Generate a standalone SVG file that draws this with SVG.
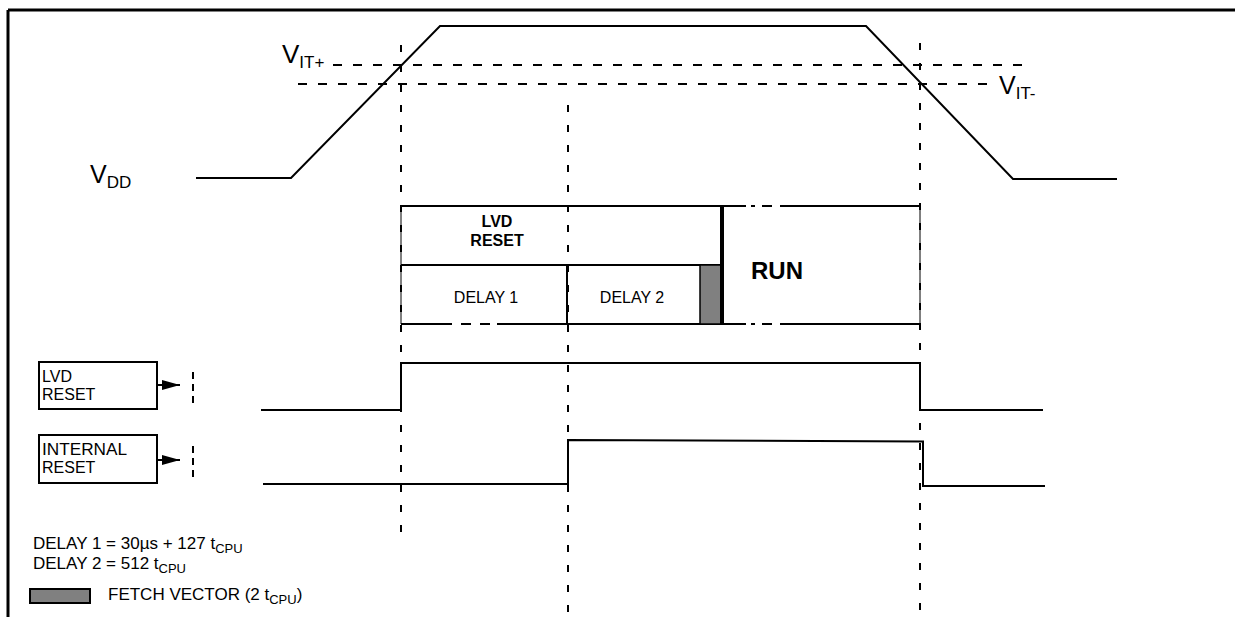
<svg xmlns="http://www.w3.org/2000/svg" width="1235" height="617" viewBox="0 0 1235 617">
<defs>
<style>
.ln{fill:none;stroke:#000;stroke-width:2}
.thk{fill:none;stroke:#000;stroke-width:4}
.dh{fill:none;stroke:#000;stroke-width:2;stroke-dasharray:9 11}
.dv{fill:none;stroke:#000;stroke-width:2;stroke-dasharray:7 13}
.t{font-family:"Liberation Sans",Arial,sans-serif;fill:#000}
.b{font-weight:bold}
.gray{fill:#808080;stroke:#000;stroke-width:2}
</style>
<marker id="ah" viewBox="0 0 18 10" refX="18" refY="5" markerWidth="18" markerHeight="10" markerUnits="userSpaceOnUse" orient="auto"><path d="M0,0 L18,5 L0,10 Z" fill="#000"/></marker>
</defs>
<rect x="0" y="0" width="1235" height="617" fill="#fff"/>
<g id="frame"><path class="ln" d="M8,10 H1235 M8,10 V617" style="stroke-width:3"/></g>

<g id="vdd">
<path class="ln" d="M196,178 H291 L440,26 H866 L1013,179 H1117"/>
<text class="t" x="90" y="183" font-size="25">V<tspan font-size="17" dy="5">DD</tspan></text>
</g>
<g id="thresholds">
<path class="dh" d="M333,65 H1027"/>
<path class="dh" d="M298,84 H990"/>
<text class="t" x="282" y="63" font-size="26">V<tspan font-size="17" dy="5">IT+</tspan></text>
<text class="t" x="999" y="94" font-size="25">V<tspan font-size="17" dy="5">IT-</tspan></text>
</g>

<g id="connectors">
<path class="dv" d="M401,45 V532"/>
<path class="dv" d="M568,105 V614"/>
<path class="dv" d="M920,43 V617"/>
<path class="ln" d="M157,385 H180" marker-end="url(#ah)"/>
<path class="ln" d="M157,460 H180" marker-end="url(#ah)"/>
<path class="dv" d="M193,372 V404" style="stroke-dasharray:7 5"/>
<path class="dv" d="M193,446 V478" style="stroke-dasharray:7 5"/>
</g>

<g id="timing-box">
<path class="ln" d="M401,206 H746 M751,206 H755 M762,206 H772 M780,206 H920"/>
<path class="ln" d="M401,324 H452 M461,324 H471 M480,324 H490 M497,324 H746 M751,324 H755 M762,324 H772 M780,324 H920"/>
<path class="ln" d="M401,265 H722"/>
<path d="M401,206 V324 M920,206 V324" fill="none" stroke="#000" stroke-width="1"/>
<path class="ln" d="M567,265 V324"/>
<rect class="gray" x="700" y="265" width="21" height="59" style="stroke-width:1.5"/>
<path class="thk" d="M722,206 V325"/>
<text class="t b" x="497" y="227" font-size="16" text-anchor="middle">LVD</text>
<text class="t b" x="497" y="246" font-size="16" text-anchor="middle">RESET</text>
<text class="t" x="486" y="303" font-size="16" text-anchor="middle">DELAY 1</text>
<text class="t" x="632" y="303" font-size="16" text-anchor="middle">DELAY 2</text>
<text class="t b" x="751" y="279" font-size="24">RUN</text>
</g>

<g id="lvd-reset-label">
<rect x="39" y="362" width="118" height="47" class="ln"/>
<text class="t" x="42" y="382" font-size="16">LVD</text>
<text class="t" x="42" y="400" font-size="16">RESET</text>
</g>
<g id="internal-reset-label">
<rect x="39" y="435" width="118" height="48" class="ln"/>
<text class="t" x="42" y="455" font-size="16" textLength="85" lengthAdjust="spacingAndGlyphs">INTERNAL</text>
<text class="t" x="42" y="473" font-size="16">RESET</text>
</g>

<g id="lvd-reset-wave">
<path class="ln" d="M261,410 H401 V363 H920 V410 H1043"/>
</g>
<g id="internal-reset-wave">
<path class="ln" d="M263,484 H568 V440 L923,441.5 V486 H1045"/>
</g>

<g id="legend">
<text class="t" x="33" y="549" font-size="17">DELAY 1 = 30µs + 127 t<tspan font-size="13" dy="4">CPU</tspan></text>
<text class="t" x="33" y="569" font-size="17">DELAY 2 = 512 t<tspan font-size="13" dy="4">CPU</tspan></text>
<rect class="gray" x="30" y="589" width="60" height="14"/>
<text class="t" x="108" y="600" font-size="17">FETCH VECTOR (2 t<tspan font-size="13" dy="4">CPU</tspan><tspan dy="-4">)</tspan></text>
</g>
</svg>
